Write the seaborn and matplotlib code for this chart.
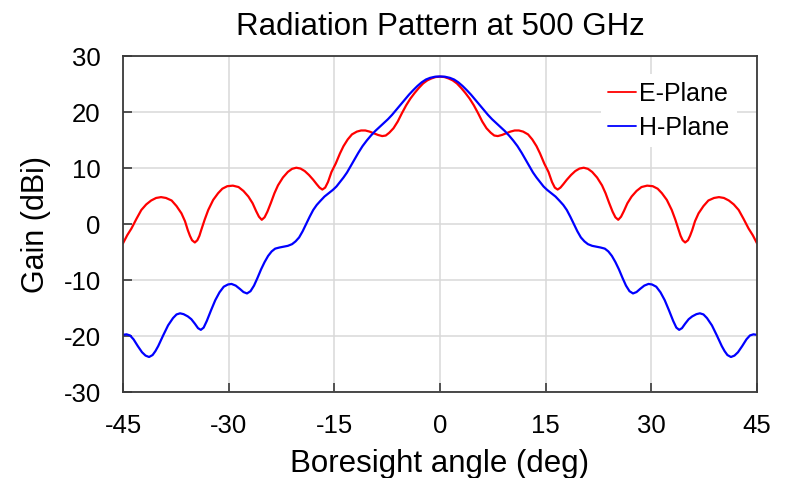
import matplotlib
matplotlib.use("Agg")
import matplotlib.pyplot as plt
import seaborn as sns
import pandas as pd

# ---- data ----
# E-Plane, left half (negative angles) and right half (0 .. 45)
E_ANGLE_LEFT = [-45.0, -44.4, -43.8, -43.1, -42.4, -41.7, -41.0, -40.3, -39.6, -38.9,
                -38.1, -37.4, -36.7, -36.2, -35.8, -35.5, -35.2, -34.8, -34.45, -34.15,
                -33.9, -33.4, -32.9, -32.2, -31.5, -30.9, -30.2, -29.4, -28.6, -27.9,
                -27.2, -26.6, -26.1, -25.7, -25.3, -24.9, -24.5, -24.0, -23.5, -23.0,
                -22.3, -21.6, -21.0, -20.4, -19.8, -19.2, -18.6, -18.0, -17.5, -17.1,
                -16.7, -16.3, -15.9, -15.4, -14.8, -14.2, -13.7, -13.1, -12.5, -11.8,
                -11.2, -10.6, -10.0, -9.4, -8.8, -8.2, -7.7, -7.2, -6.6, -6.0,
                -5.4, -4.8, -4.2, -3.6, -3.0, -2.4, -1.8, -1.2, -0.6]
E_GAIN_LEFT = [-3.45, -2.0, -0.8, 0.9, 2.5, 3.5, 4.2, 4.65, 4.8, 4.65,
               4.2, 3.2, 1.9, 0.5, -1.1, -2.1, -2.9, -3.3, -2.9, -2.1,
               -1.1, 0.8, 2.5, 4.3, 5.5, 6.3, 6.75, 6.85, 6.6, 5.9,
               4.9, 3.7, 2.3, 1.3, 0.75, 1.2, 2.2, 3.8, 5.5, 6.9,
               8.3, 9.3, 9.85, 10.05, 9.9, 9.45, 8.75, 7.9, 7.1, 6.5,
               6.15, 6.5, 7.5, 9.3, 10.8, 12.6, 13.9, 15.1, 16.0, 16.5,
               16.7, 16.7, 16.5, 16.2, 15.9, 15.7, 15.8, 16.3, 17.1, 18.3,
               19.8, 21.2, 22.4, 23.4, 24.3, 25.1, 25.65, 26.0, 26.25]
E_ANGLE_RIGHT = [0.0, 0.6, 1.2, 1.8, 2.4, 3.0, 3.6, 4.2, 4.8, 5.4,
                 6.0, 6.6, 7.2, 7.7, 8.2, 8.8, 9.4, 10.0, 10.6, 11.2,
                 11.8, 12.5, 13.1, 13.7, 14.2, 14.8, 15.4, 15.9, 16.3, 16.7,
                 17.1, 17.5, 18.0, 18.6, 19.2, 19.8, 20.4, 21.0, 21.6, 22.3,
                 23.0, 23.5, 24.0, 24.5, 24.9, 25.3, 25.7, 26.1, 26.6, 27.2,
                 27.9, 28.6, 29.4, 30.2, 30.9, 31.5, 32.2, 32.9, 33.4, 33.9,
                 34.15, 34.45, 34.8, 35.2, 35.5, 35.8, 36.2, 36.7, 37.4, 38.1,
                 38.9, 39.6, 40.3, 41.0, 41.7, 42.4, 43.1, 43.8, 44.4, 45.0]
E_GAIN_RIGHT = [26.3, 26.25, 26.0, 25.65, 25.1, 24.3, 23.4, 22.4, 21.2, 19.8,
                18.3, 17.1, 16.3, 15.8, 15.7, 15.9, 16.2, 16.5, 16.7, 16.7,
                16.5, 16.0, 15.1, 13.9, 12.6, 10.8, 9.3, 7.5, 6.5, 6.15,
                6.5, 7.1, 7.9, 8.75, 9.45, 9.9, 10.05, 9.85, 9.3, 8.3,
                6.9, 5.5, 3.8, 2.2, 1.2, 0.75, 1.3, 2.3, 3.7, 4.9,
                5.9, 6.6, 6.85, 6.75, 6.3, 5.5, 4.3, 2.5, 0.8, -1.1,
                -2.1, -2.9, -3.3, -2.9, -2.1, -1.1, 0.5, 1.9, 3.2, 4.2,
                4.65, 4.8, 4.65, 4.2, 3.5, 2.5, 0.9, -0.8, -2.0, -3.45]

# H-Plane, left half and right half
H_ANGLE_LEFT = [-45.0, -44.5, -44.0, -43.5, -42.9, -42.3, -41.8, -41.3, -40.8, -40.4,
                -40.0, -39.3, -38.6, -37.9, -37.4, -36.9, -36.4, -35.8, -35.3, -34.8,
                -34.35, -33.95, -33.55, -33.1, -32.5, -31.9, -31.3, -30.7, -30.1, -29.6,
                -29.0, -28.4, -27.9, -27.4, -26.9, -26.4, -25.9, -25.4, -24.9, -24.4,
                -23.9, -23.4, -22.8, -22.2, -21.6, -21.0, -20.5, -20.0, -19.5, -19.0,
                -18.5, -18.0, -17.5, -17.0, -16.4, -15.8, -15.2, -14.7, -14.2, -13.7,
                -13.2, -12.7, -12.2, -11.6, -11.0, -10.4, -9.8, -9.2, -8.6, -8.0,
                -7.4, -6.8, -6.2, -5.6, -5.0, -4.4, -3.8, -3.2, -2.6, -2.0,
                -1.4, -0.7]
H_GAIN_LEFT = [-19.8, -19.7, -19.9, -20.6, -21.8, -22.9, -23.5, -23.75, -23.4, -22.7,
               -21.8, -19.9, -18.1, -16.8, -16.15, -15.95, -16.1, -16.5, -17.0, -17.8,
               -18.6, -18.9, -18.5, -17.3, -15.4, -13.6, -12.2, -11.2, -10.8, -10.7,
               -11.0, -11.6, -12.15, -12.4, -12.0, -11.0, -9.6, -8.1, -6.8, -5.7,
               -4.9, -4.4, -4.2, -4.05, -3.9, -3.6, -3.1, -2.4, -1.3, 0.0,
               1.3, 2.5, 3.4, 4.1, 4.9, 5.5, 6.1, 6.7, 7.5, 8.3,
               9.2, 10.3, 11.4, 12.7, 13.9, 14.9, 15.8, 16.6, 17.3, 18.0,
               18.7, 19.5, 20.4, 21.3, 22.2, 23.1, 23.9, 24.65, 25.3, 25.8,
               26.1, 26.3]
H_ANGLE_RIGHT = [0.0, 0.7, 1.4, 2.0, 2.6, 3.2, 3.8, 4.4, 5.0, 5.6,
                 6.2, 6.8, 7.4, 8.0, 8.6, 9.2, 9.8, 10.4, 11.0, 11.6,
                 12.2, 12.7, 13.2, 13.7, 14.2, 14.7, 15.2, 15.8, 16.4, 17.0,
                 17.5, 18.0, 18.5, 19.0, 19.5, 20.0, 20.5, 21.0, 21.6, 22.2,
                 22.8, 23.4, 23.9, 24.4, 24.9, 25.4, 25.9, 26.4, 26.9, 27.4,
                 27.9, 28.4, 29.0, 29.6, 30.1, 30.7, 31.3, 31.9, 32.5, 33.1,
                 33.55, 33.95, 34.35, 34.8, 35.3, 35.8, 36.4, 36.9, 37.4, 37.9,
                 38.6, 39.3, 40.0, 40.4, 40.8, 41.3, 41.8, 42.3, 42.9, 43.5,
                 44.0, 44.5, 45.0]
H_GAIN_RIGHT = [26.35, 26.3, 26.1, 25.8, 25.3, 24.65, 23.9, 23.1, 22.2, 21.3,
                20.4, 19.5, 18.7, 18.0, 17.3, 16.6, 15.8, 14.9, 13.9, 12.7,
                11.4, 10.3, 9.2, 8.3, 7.5, 6.7, 6.1, 5.5, 4.9, 4.1,
                3.4, 2.5, 1.3, 0.0, -1.3, -2.4, -3.1, -3.6, -3.9, -4.05,
                -4.2, -4.4, -4.9, -5.7, -6.8, -8.1, -9.6, -11.0, -12.0, -12.4,
                -12.15, -11.6, -11.0, -10.7, -10.8, -11.2, -12.2, -13.6, -15.4, -17.3,
                -18.5, -18.9, -18.6, -17.8, -17.0, -16.5, -16.1, -15.95, -16.15, -16.8,
                -18.1, -19.9, -21.8, -22.7, -23.4, -23.75, -23.5, -22.9, -21.8, -20.6,
                -19.9, -19.7, -19.8]

SERIES = ["E-Plane", "H-Plane"]
X_TICKS = [-45, -30, -15, 0, 15, 30, 45]
Y_TICKS = [-30, -20, -10, 0, 10, 20, 30]
TITLE = "Radiation Pattern at 500 GHz"
X_LABEL = "Boresight angle (deg)"
Y_LABEL = "Gain (dBi)"

df = pd.concat([
    pd.DataFrame({"angle": E_ANGLE_LEFT + E_ANGLE_RIGHT,
                  "gain": E_GAIN_LEFT + E_GAIN_RIGHT, "plane": SERIES[0]}),
    pd.DataFrame({"angle": H_ANGLE_LEFT + H_ANGLE_RIGHT,
                  "gain": H_GAIN_LEFT + H_GAIN_RIGHT, "plane": SERIES[1]}),
], ignore_index=True)

sns.set_theme(style="whitegrid")
plt.rcParams["font.family"] = ["Liberation Sans", "DejaVu Sans"]
plt.rcParams["axes.unicode_minus"] = False

fig = plt.figure(figsize=(7.9, 4.78), dpi=100)
ax = fig.add_axes([123 / 790, 1 - 392 / 478, 634 / 790, 336 / 478])

sns.lineplot(data=df, x="angle", y="gain", hue="plane", hue_order=SERIES,
             palette={"E-Plane": "#ff0000", "H-Plane": "#0000ff"},
             estimator=None, sort=False, linewidth=1.6, ax=ax)
for ln in ax.get_lines():
    ln.set_solid_joinstyle("round")
    ln.set_solid_capstyle("round")

ax.set_xlim(-45, 45)
ax.set_ylim(-30, 30)
ax.set_xticks(X_TICKS)
ax.set_yticks(Y_TICKS)
ax.grid(True, color="#d9d9d9", linewidth=1.1)
ax.set_facecolor("white")
for s in ax.spines.values():
    s.set_visible(True)
    s.set_color("#3a3a3a")
    s.set_linewidth(1.3)

ax.tick_params(axis="both", direction="in", length=6.5, width=1.2, color="#3a3a3a",
               labelsize=18.5, labelcolor="black", top=False, right=False, left=True, bottom=True)
ax.tick_params(axis="x", pad=16)
ax.tick_params(axis="y", pad=16)

ax.set_title(TITLE, fontsize=22.5, pad=15, color="black")
ax.set_xlabel(X_LABEL, fontsize=22.5, labelpad=8, color="black")
ax.set_ylabel(Y_LABEL, fontsize=22, labelpad=9, color="black")

leg = ax.legend(loc="upper right", bbox_to_anchor=((737 - 123) / 634, (392 - 74) / 336),
                borderaxespad=0, fontsize=18, frameon=True, facecolor="white",
                edgecolor="white", framealpha=1, fancybox=False, handlelength=1.1,
                handletextpad=0.15, labelspacing=0.4, borderpad=0.3)
leg.get_frame().set_linewidth(0)
for t in leg.get_texts():
    t.set_color("black")
for line in leg.get_lines():
    line.set_linewidth(1.3)

fig.savefig("out.png", dpi=100)
